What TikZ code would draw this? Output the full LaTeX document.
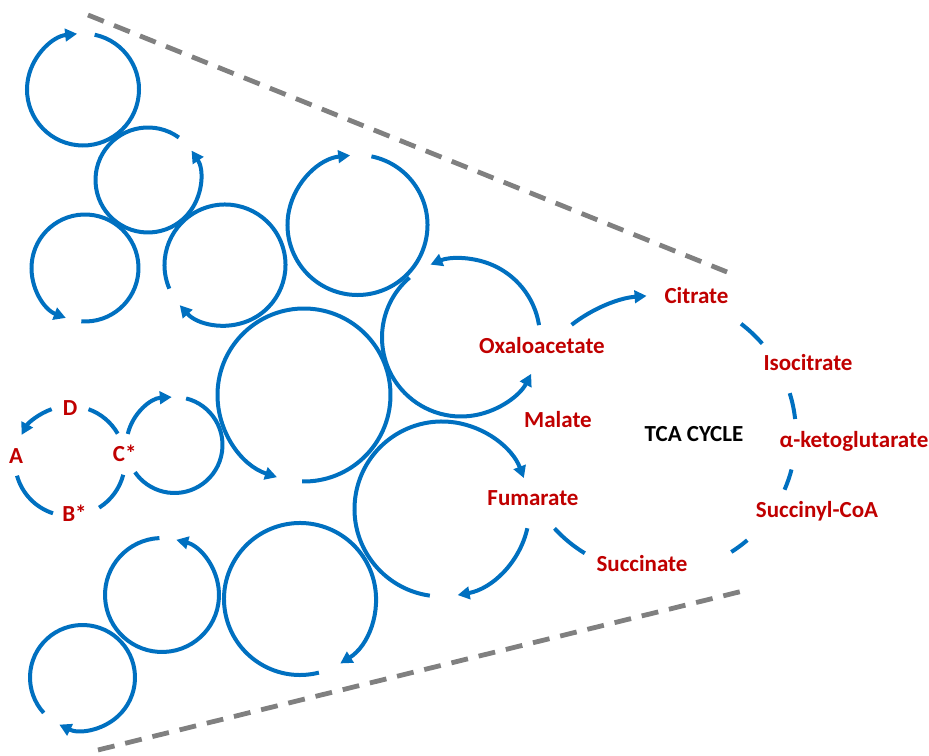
\documentclass[tikz,border=0pt]{standalone}
\usepackage{fontspec}
\setmainfont{Carlito}
\usetikzlibrary{arrows.meta,calc}
\definecolor{cblue}{HTML}{0070C0}
\definecolor{cred}{HTML}{C00000}
\definecolor{cgray}{HTML}{808080}
\newcommand{\arcseg}[5][]{\draw[cyc,#1] ($(#2)+(#3:#5)$) arc[start angle=#3,end angle=#4,radius=#5];}
\begin{document}
\begin{tikzpicture}[x=1pt,y=1pt,
  cyc/.style={draw=cblue,line width=4pt},
  tip/.style={-{Triangle[length=12pt,width=12.5pt]}},
  lab/.style={text=cred,font=\fontsize{23}{27}\selectfont\bfseries,inner sep=0pt},
  guide/.style={draw=cgray,line width=4.8pt,dash pattern=on 17pt off 11pt}]
\useasboundingbox (0,0) rectangle (929,755);

% guide lines (zoom)
\coordinate (g1a) at (88,740);
\coordinate (g1b) at (727,483);
\coordinate (g2a) at (98,5);
\coordinate (g2b) at (747,165);
\draw[guide] (g1a) -- (g1b);
\draw[guide] (g2a) -- (g2b);

% circle centres
\coordinate (c1) at (83,665.5);
\coordinate (c2) at (148,575);
\coordinate (c3) at (85,487);
\coordinate (c4) at (225,490);
\coordinate (c5) at (357.5,530);
\coordinate (c6) at (461,417.5);
\coordinate (c7) at (304,360);
\coordinate (c8) at (442,246);
\coordinate (c9) at (174.5,310);
\coordinate (cab) at (70,294);
\coordinate (c10) at (162,160);
\coordinate (c11) at (300,156);
\coordinate (c12) at (82.5,77.5);
\coordinate (tca) at (657,320.5);

% cycles
\arcseg[tip]{c1}{78}{-264}{56pt}
\arcseg[tip]{c2}{54}{394}{52.5pt}
\arcseg[tip]{c3}{266}{609}{53.5pt}
\arcseg[tip]{c4}{203}{-138.4}{60.5pt}
\arcseg[tip]{c5}{78.5}{-264}{70pt}
\arcseg[tip]{c6}{9}{112.7}{79pt}
\arcseg[tip]{c6}{130.7}{332.6}{79pt}
\arcseg[tip]{c7}{268.7}{611.8}{86.5pt}
\arcseg[tip]{c8}{262}{20.7}{87.5pt}
\arcseg[tip]{c8}{-12.7}{-79.7}{87.5pt}
\arcseg[tip]{c9}{166.7}{93.3}{48pt}
\arcseg{c9}{76}{-145.5}{48pt}
\arcseg[tip]{cab}{109.5}{151.7}{55pt}
\arcseg{cab}{195.5}{252}{55pt}
\arcseg{cab}{302}{345.5}{55pt}
\arcseg{cab}{29.8}{70.3}{55pt}
\arcseg[tip]{c10}{92.6}{435.5}{57pt}
\arcseg[tip]{c11}{284.4}{-58}{76pt}
\arcseg[tip]{c12}{222.4}{-116.2}{52.5pt}

% TCA cycle
\arcseg[tip]{tca}{127.9}{94.3}{139pt}
\arcseg{tca}{52.8}{40.8}{139pt}
\arcseg{tca}{17.3}{6.4}{139pt}
\arcseg{tca}{-14.6}{-23.4}{139pt}
\arcseg{tca}{-49.5}{-57.7}{139pt}
\arcseg{tca}{-121.3}{-137.5}{139pt}

% labels
\node[lab] (cit) at (696.5,459.5) {Citrate};
\node[lab] (iso) at (808,392) {Isocitrate};
\node[lab] (akg) at (854,314) {α-ketoglutarate};
\node[lab] (scoa) at (817,244) {Succinyl-CoA};
\node[lab] (suc) at (642,191) {Succinate};
\node[lab] (fum) at (533,257) {Fumarate};
\node[lab] (mal) at (558,335) {Malate};
\node[lab] (oxa) at (542,409) {Oxaloacetate};
\node[lab,text=black] (title) at (694,321) {TCA CYCLE};
\node[lab] (la) at (16,299) {A};
\node[lab] (ld) at (70,346.5) {D};
\node[lab] (lb) at (74.5,241.5) {B*};
\node[lab] (lc) at (124.7,301.5) {C*};
\end{tikzpicture}
\end{document}
